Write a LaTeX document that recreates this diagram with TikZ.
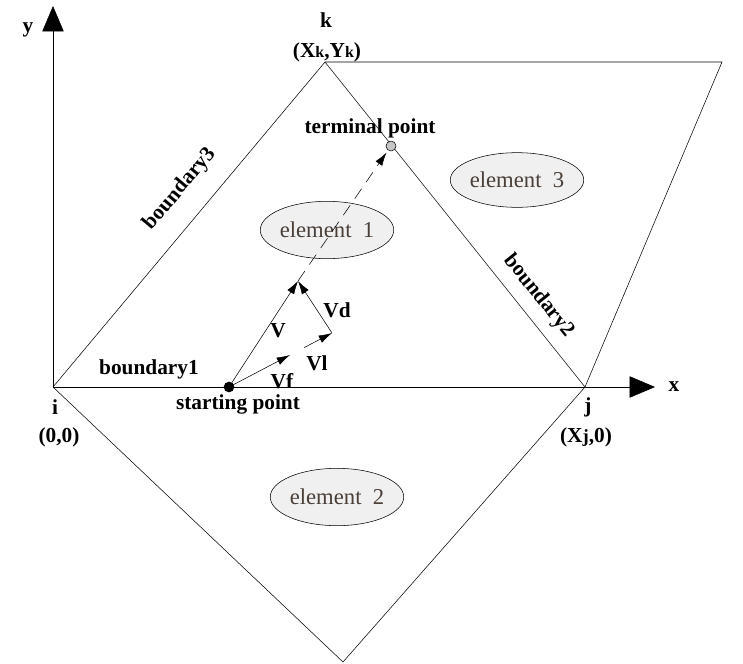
\documentclass[tikz,border=0pt]{standalone}
\usepackage{fontspec}
\setmainfont{Liberation Serif}
\usepackage{xcolor}
\usetikzlibrary{arrows.meta,positioning,shapes.geometric}
\definecolor{elemfill}{HTML}{F0F0F0}
\definecolor{elemtext}{HTML}{4A3F38}

\begin{document}
\begin{tikzpicture}[x=0.75pt,y=-0.75pt,>={Latex[length=10pt,width=6pt]}, every node/.style={font=\fontsize{16}{18}\selectfont\bfseries}]
\tikzstyle{elem}=[draw,ellipse,fill=elemfill,text=elemtext,inner sep=0pt,minimum width=95pt,minimum height=43pt,font=\fontsize{17}{19}\selectfont]
\tikzstyle{axis}=[-{Triangle[length=19pt,width=16pt]}]
\tikzstyle{vec}=[->]
\useasboundingbox (0,0) rectangle (743,664);
% mesh corners
\coordinate (i) at (53,387);
\coordinate (j) at (585,387);
\coordinate (k) at (325,62);
\coordinate (m) at (343,662);
\coordinate (n) at (722,62);
\coordinate (ytip) at (53,6);
\coordinate (xtip) at (655,387);
% axes
\draw[axis] (i) -- (ytip);
\draw[axis] (i) -- (xtip);
\draw (i) -- (k) -- (j);
\draw (i) -- (m) -- (j);
\draw (k) -- (n) -- (j);
\node (ylab) at (28,30) {y};
\node (xlab) at (674,387) {x};
\node (klab) at (326,20) {k};
\node (kxy) at (327,52) {(X{\fontsize{12}{13}\selectfont k},Y{\fontsize{12}{13}\selectfont k})};
\node (ilab) at (55,407) {i};
\node (ixy) at (59,437) {(0,0)};
\node (jlab) at (588,407) {j};
\node (jxy) at (586,437) {(X{\fontsize{14}{15}\selectfont j},0)};
\node (b1) at (149,369) {boundary1};
\node[rotate=50] (b3) at (180,189) {boundary3};
\node[rotate=-51] (b2) at (539,296) {boundary2};
% elements
\node[elem] (e1) at (327,230) {element\ \ 1};
\node[elem,minimum width=93pt,minimum height=41pt] (e3) at (517,180) {element\ \ 3};
\node[elem] (e2) at (337,497) {element\ \ 2};
% path of the particle
\node[circle,fill=black,inner sep=0pt,minimum size=8pt] (sp) at (229,387) {};
\node[circle,draw,fill=gray!45,inner sep=0pt,minimum size=7.5pt] (tp) at (391,146) {};
\node (splab) at (238,404) {starting point};
\node (tplab) at (370,128) {terminal point};
\coordinate (vtip) at (298,281);
\coordinate (vftip) at (290,355);
\coordinate (vltip) at (332,333);
\draw[vec] (sp.center) -- (vtip);
\draw[vec] (sp.center) -- (vftip);
\draw[vec,shorten <=12pt] (vftip) -- (vltip);
\draw[vec] (vltip) -- (vtip);
\draw[->,dash pattern=on 9pt off 6pt,shorten >=2pt] (vtip) -- (tp);
\node (vlab) at (278,331) {V};
\node (vdlab) at (337,310) {Vd};
\node (vllab) at (317,363) {Vl};
\node (vflab) at (282,381) {Vf};
\end{tikzpicture}
\end{document}
